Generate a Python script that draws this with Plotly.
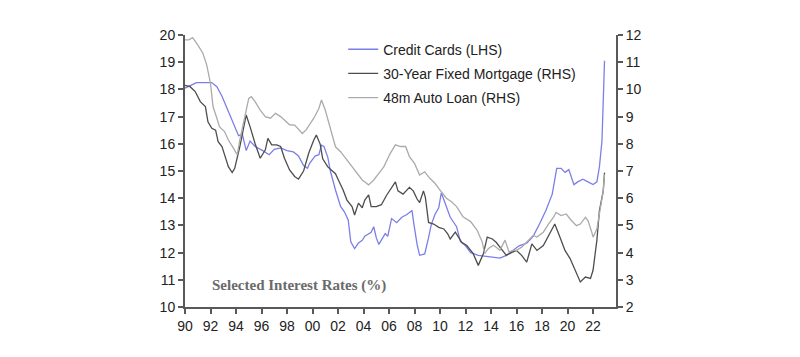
import plotly.graph_objects as go

# ---- Data (fractional years, values in %) ----
cc_years = [1990.0, 1990.9, 1992.1, 1992.5, 1992.9, 1993.4, 1993.8, 1994.2, 1994.5, 1994.8,
            1995.1, 1995.5, 1996.1, 1996.6, 1997.0, 1997.5, 1998.0, 1998.5, 1998.9, 1999.3,
            1999.6, 1999.8, 2000.2, 2000.5, 2000.7, 2000.9, 2001.2, 2001.4, 2001.8, 2002.2,
            2002.5, 2002.8, 2003.0, 2003.3, 2003.6, 2003.9, 2004.1, 2004.4, 2004.6, 2004.8,
            2005.0, 2005.2, 2005.5, 2005.7, 2005.9, 2006.2, 2006.6, 2007.0, 2007.4, 2007.8,
            2007.95, 2008.2, 2008.4, 2008.8, 2009.1, 2009.3, 2009.6, 2009.9, 2010.1, 2010.4,
            2010.8, 2011.3, 2011.6, 2012.0, 2012.4, 2013.0, 2013.7, 2014.7, 2015.2, 2015.6,
            2016.2, 2016.8, 2017.3, 2017.8, 2018.3, 2018.8, 2019.0, 2019.15, 2019.5, 2019.8,
            2020.1, 2020.5, 2020.8, 2021.2, 2021.6, 2022.0, 2022.3, 2022.5, 2022.7, 2022.8,
            2022.9]
credit_cards = [18.05, 18.25, 18.25, 18.1, 17.75, 17.2, 16.75, 16.3, 16.35, 15.75,
                16.1, 15.9, 15.75, 15.6, 15.8, 15.85, 15.75, 15.7, 15.55, 15.2,
                15.1, 15.3, 15.55, 15.6, 15.95, 15.9, 15.5, 15.0, 14.3, 13.7,
                13.5, 13.2, 12.4, 12.15, 12.35, 12.45, 12.6, 12.7, 12.75, 12.95,
                12.55, 12.3, 12.55, 12.7, 12.6, 13.25, 13.1, 13.3, 13.4, 13.55,
                13.05, 12.3, 11.9, 11.95, 12.55, 13.0, 13.4, 13.65, 14.2, 13.8,
                13.3, 12.95, 12.4, 12.25, 12.0, 11.9, 11.85, 11.8, 11.9, 12.05,
                12.25, 12.35, 12.6, 13.05, 13.55, 14.15, 14.8, 15.1, 15.1, 14.95,
                15.05, 14.5, 14.6, 14.7, 14.6, 14.5, 14.6, 15.15, 16.1, 17.7,
                19.05]

mort_years = [1990.0, 1990.4, 1990.8, 1991.2, 1991.6, 1991.8, 1992.1, 1992.4, 1992.6, 1992.9,
              1993.1, 1993.4, 1993.7, 1993.9, 1994.3, 1994.6, 1994.8, 1995.1, 1995.5, 1995.9,
              1996.3, 1996.5, 1996.8, 1997.2, 1997.5, 1997.8, 1998.2, 1998.6, 1998.9, 1999.3,
              1999.7, 2000.1, 2000.3, 2000.6, 2000.8, 2001.2, 2001.5, 2001.8, 2002.0, 2002.4,
              2002.7, 2003.1, 2003.3, 2003.6, 2003.9, 2004.1, 2004.4, 2004.6, 2005.0, 2005.4,
              2005.8, 2006.2, 2006.5, 2006.7, 2007.1, 2007.6, 2007.9, 2008.2, 2008.4, 2008.7,
              2008.85, 2009.1, 2009.5, 2009.9, 2010.3, 2010.6, 2010.8, 2011.2, 2011.4, 2011.7,
              2012.1, 2012.6, 2013.0, 2013.4, 2013.7, 2014.1, 2014.4, 2014.8, 2015.2, 2015.6,
              2016.0, 2016.4, 2016.8, 2017.2, 2017.6, 2018.1, 2018.5, 2019.0, 2019.4, 2019.8,
              2020.2, 2020.6, 2021.0, 2021.4, 2021.8, 2022.0, 2022.3, 2022.5, 2022.8, 2022.9]
mortgage_30y = [10.15, 10.1, 9.92, 9.55, 9.37, 8.81, 8.57, 8.5, 8.08, 7.9,
                7.6, 7.16, 6.94, 7.1, 7.9, 8.63, 9.06, 8.63, 8.0, 7.47,
                7.78, 8.2, 7.96, 7.96, 7.9, 7.47, 7.04, 6.8, 6.7, 7.0,
                7.65, 8.14, 8.32, 7.99, 7.45, 7.15, 7.04, 6.9, 6.7, 6.3,
                5.93, 5.69, 5.38, 5.82, 5.65, 5.93, 6.12, 5.69, 5.69, 5.76,
                6.1, 6.4, 6.6, 6.27, 6.15, 6.4, 6.27, 5.97, 5.84, 6.27,
                6.03, 5.11, 5.05, 4.93, 4.87, 4.69, 4.5, 4.75, 4.62, 4.38,
                4.26, 3.96, 3.53, 3.96, 4.57, 4.5, 4.38, 4.14, 3.9, 4.0,
                4.08, 3.9, 3.65, 4.32, 4.08, 4.26, 4.63, 5.05, 4.57, 4.08,
                3.78, 3.35, 2.92, 3.1, 3.05, 3.35, 4.45, 5.54, 6.27, 6.94]

auto_years = [1990.0, 1990.3, 1990.6, 1991.0, 1991.4, 1991.7, 1992.0, 1992.2, 1992.5, 1992.7,
              1993.1, 1993.4, 1993.8, 1994.1, 1994.3, 1994.7, 1995.0, 1995.2, 1995.5, 1995.9,
              1996.3, 1996.7, 1997.1, 1997.5, 1997.8, 1998.2, 1998.6, 1999.2, 1999.5, 2000.1,
              2000.5, 2000.7, 2001.0, 2001.4, 2001.8, 2002.2, 2002.5, 2002.9, 2003.5, 2003.9,
              2004.4, 2004.8, 2005.2, 2005.6, 2006.1, 2006.5, 2006.9, 2007.3, 2007.6, 2008.0,
              2008.4, 2008.8, 2009.2, 2009.6, 2010.0, 2010.5, 2010.9, 2011.3, 2011.8, 2012.4,
              2012.9, 2013.3, 2013.5, 2013.8, 2014.2, 2014.7, 2015.1, 2015.4, 2015.8, 2016.0,
              2016.4, 2016.8, 2017.3, 2017.6, 2018.1, 2018.5, 2018.9, 2019.1, 2019.5, 2019.9,
              2020.3, 2020.7, 2021.0, 2021.4, 2021.6, 2021.9, 2022.0, 2022.3, 2022.5, 2022.8,
              2022.9]
auto_48m = [11.82, 11.82, 11.9, 11.64, 11.33, 10.9, 10.22, 9.36, 8.94, 8.63,
            8.45, 8.14, 7.84, 7.59, 8.14, 9.0, 9.67, 9.73, 9.55, 9.24,
            9.0, 8.94, 9.12, 9.0, 8.88, 8.7, 8.69, 8.38, 8.51, 8.94,
            9.3, 9.61, 9.24, 8.51, 7.89, 7.71, 7.53, 7.28, 6.91, 6.67,
            6.49, 6.67, 6.91, 7.16, 7.65, 7.96, 7.9, 7.9, 7.53, 7.28,
            6.85, 6.97, 6.73, 6.55, 6.3, 6.0, 5.87, 5.69, 5.32, 5.14,
            4.83, 4.4, 3.97, 4.15, 4.27, 4.09, 4.46, 4.03, 4.09, 4.08,
            4.2, 4.38, 4.63, 4.57, 4.75, 5.05, 5.3, 5.48, 5.36, 5.42,
            5.18, 4.99, 5.05, 5.3, 5.18, 4.75, 4.57, 4.87, 5.42, 6.27,
            6.88]

x_tickvals = list(range(1990, 2023, 2))
x_ticktext = ["90", "92", "94", "96", "98", "00", "02", "04", "06", "08",
              "10", "12", "14", "16", "18", "20", "22"]

# ---- Figure ----
fig = go.Figure()
fig.add_trace(go.Scatter(x=cc_years, y=credit_cards, mode="lines",
                         name="Credit Cards (LHS)", legendgroup="a",
                         line=dict(color="#7b7fe8", width=1.3)))
fig.add_trace(go.Scatter(x=mort_years, y=mortgage_30y, mode="lines", yaxis="y2",
                         name="30-Year Fixed Mortgage (RHS)", legendgroup="b",
                         line=dict(color="#4d4d4d", width=1.3)))
fig.add_trace(go.Scatter(x=auto_years, y=auto_48m, mode="lines", yaxis="y2",
                         name="48m Auto Loan (RHS)", legendgroup="c",
                         line=dict(color="#ababab", width=1.3)))

axis_font = dict(family="Liberation Sans, Arial, sans-serif", size=14, color="#222222")

fig.update_layout(
    width=792, height=349,
    margin=dict(l=177, r=184, t=27, b=50),
    paper_bgcolor="white", plot_bgcolor="white",
    showlegend=True,
    legend=dict(x=0.367, y=1.005, xanchor="left", yanchor="top",
                font=dict(family="Liberation Sans, Arial, sans-serif", size=14, color="#222222"),
                bgcolor="rgba(0,0,0,0)", tracegroupgap=3, itemwidth=30),
    xaxis=dict(range=[1990, 2023.8], tickvals=x_tickvals, ticktext=x_ticktext,
               showgrid=False, zeroline=False, showline=True, linecolor="#595959", linewidth=2,
               ticks="outside", ticklen=5, tickcolor="#595959", tickwidth=1.5,
               tickfont=axis_font),
    yaxis=dict(range=[10, 20], dtick=1, showgrid=False, zeroline=False,
               showline=True, linecolor="#595959", linewidth=2,
               ticks="outside", ticklen=5, tickcolor="#595959", tickwidth=1.5,
               tickfont=axis_font),
    yaxis2=dict(range=[2, 12], dtick=1, overlaying="y", side="right",
                showgrid=False, zeroline=False, showline=True, linecolor="#595959", linewidth=2,
                ticks="outside", ticklen=5, tickcolor="#595959", tickwidth=1.5,
                tickfont=axis_font),
    annotations=[dict(text="<b>Selected Interest Rates (%)</b>", xref="paper", yref="paper",
                      x=0.058, y=0.08, xanchor="left", yanchor="middle", showarrow=False,
                      font=dict(family="Liberation Serif, Times New Roman, serif", size=15,
                                color="#6a6a6a"))],
)

fig.write_html("out.html")
